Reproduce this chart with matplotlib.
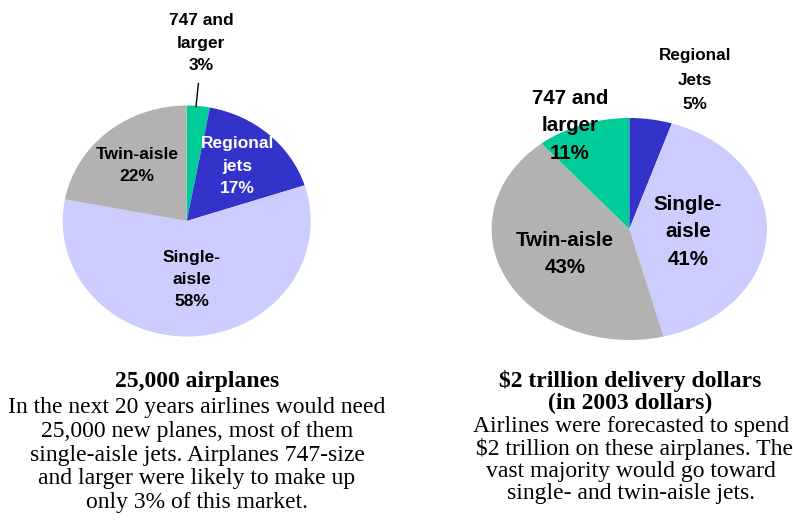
import matplotlib.pyplot as plt

W, H = 793, 522

# Fleet forecast: share of airplanes by type
fleet_labels = ["747 and\nlarger", "Regional\njets", "Single-\naisle", "Twin-aisle"]
fleet_share = [3, 17, 58, 22]

# Delivery dollars by type
value_labels = ["Regional\nJets", "Single-\naisle", "Twin-aisle", "747 and\nlarger"]
value_share = [5, 41, 43, 11]

green, blue, lavender, gray = "#00CC99", "#3333CC", "#CCCCFF", "#B2B2B2"
fleet_colors = [green, blue, lavender, gray]
value_colors = [blue, lavender, gray, green]

label_font = ["Liberation Sans Narrow", "Liberation Sans", "DejaVu Sans"]
body_font = ["Liberation Serif", "DejaVu Serif"]

fig = plt.figure(figsize=(W / 100, H / 100), dpi=100)


def pie_axes(cx, cy, rx, ry):
    # axes whose unit circle covers the given pixel ellipse
    ax = fig.add_axes([(cx - rx) / W, (H - cy - ry) / H, 2 * rx / W, 2 * ry / H])
    return ax


def draw_pie(ax, values, colors):
    wedges, _ = ax.pie(values, colors=colors, startangle=90, counterclock=False,
                       wedgeprops=dict(linewidth=0))
    ax.set_aspect("auto")
    ax.set_xlim(-1, 1)
    ax.set_ylim(-1, 1)
    ax.axis("off")
    return wedges


def put_label(ax, x, y, name, pct, color="black", size=12.5, spacing=1.62):
    ax.text(x, y, f"{name}\n{pct}%", ha="center", va="center", color=color,
            fontsize=size, fontweight="bold", family=label_font,
            linespacing=spacing)


# left pie
ax1 = pie_axes(186.7, 221, 124, 115.5)
draw_pie(ax1, fleet_share, fleet_colors)
put_label(ax1, 0.115, 1.54, fleet_labels[0], fleet_share[0])
put_label(ax1, 0.41, 0.476, fleet_labels[1], fleet_share[1], color="white")
put_label(ax1, 0.04, -0.506, fleet_labels[2], fleet_share[2])
put_label(ax1, -0.40, 0.48, fleet_labels[3], fleet_share[3])
# leader line to the thin 747 slice
ax1.plot([0.094, 0.075], [1.19, 0.99], color="black", lw=1, clip_on=False)

# right pie
ax2 = pie_axes(629.3, 229, 137.7, 111)
draw_pie(ax2, value_share, value_colors)
put_label(ax2, 0.477, 1.34, value_labels[0], value_share[0], size=12.3, spacing=1.8)
put_label(ax2, 0.426, -0.027, value_labels[1], value_share[1], size=14.8, spacing=1.57)
put_label(ax2, -0.467, -0.225, value_labels[2], value_share[2], size=14.8, spacing=1.57)
put_label(ax2, -0.43, 0.93, value_labels[3], value_share[3], size=14.8, spacing=1.57)

# captions
body = dict(ha="center", va="center", family=body_font, fontsize=17)
fig.text(197 / W, 1 - 382 / H, "25,000 airplanes", fontweight="bold", **body)
fig.text(197 / W, 1 - 455 / H,
         "In the next 20 years airlines would need\n"
         "25,000 new planes, most of them\n"
         "single-aisle jets. Airplanes 747-size\n"
         "and larger were likely to make up\n"
         "only 3% of this market.", linespacing=1.16, **body)

fig.text(630 / W, 1 - 392 / H, "$2 trillion delivery dollars\n(in 2003 dollars)",
         fontweight="bold", linespacing=1.05, **body)
fig.text(631 / W, 1 - 460 / H,
         "Airlines were forecasted to spend\n"
         " $2 trillion on these airplanes. The\n"
         "vast majority would go toward\n"
         "single- and twin-aisle jets.", linespacing=1.05, **body)

fig.savefig("out.png", dpi=100)
